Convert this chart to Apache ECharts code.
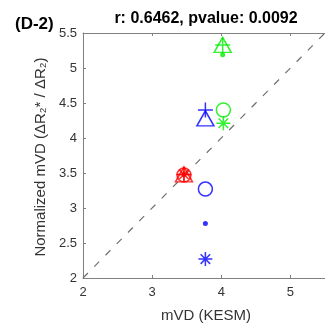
<!DOCTYPE html>
<html>
<head>
<meta charset="utf-8">
<script src="https://cdn.jsdelivr.net/npm/echarts@6/dist/echarts.min.js"></script>
<style>
  html, body { margin: 0; padding: 0; background: #fff; }
  #chart { width: 325px; height: 325px; }
</style>
</head>
<body>
<div id="chart"></div>
<script>
// Axis ranges and tick labels
const xRange = [2, 5.5];
const yRange = [2, 5.5];
const xTickValues = [2, 3, 4, 5];
const yTickValues = [2, 2.5, 3, 3.5, 4, 4.5, 5, 5.5];

// Marker kinds, in the order used by every group below
const markerKinds = ['triangle', 'plus', 'circle', 'asterisk', 'dot'];

// Red group
const redX = [3.46, 3.46, 3.46, 3.46, 3.46];
const redY = [3.48, 3.48, 3.47, 3.48, 3.48];
// Blue group
const blueX = [3.77, 3.77, 3.77, 3.77, 3.77];
const blueY = [4.28, 4.40, 3.27, 2.27, 2.78];
// Green group
const greenX = [4.02, 4.02, 4.03, 4.03, 4.02];
const greenY = [5.33, 5.33, 4.40, 4.21, 5.19];

// Identity reference line
const refLineX = [2, 5.5];
const refLineY = [2, 5.5];

const groups = [
  { color: '#ff0000', xs: redX, ys: redY },
  { color: '#0000ff', xs: blueX, ys: blueY },
  { color: '#00ee00', xs: greenX, ys: greenY }
];

const symbolStyles = {
  triangle: { symbol: 'triangle', size: [17, 15], hollow: true },
  plus: { symbol: 'path://M5,0L5,10M0,5L10,5', size: [15, 15], hollow: true },
  circle: { symbol: 'circle', size: 14, hollow: true },
  asterisk: { symbol: 'path://M5,0L5,10M0,5L10,5M1.6,1.6L8.4,8.4M8.4,1.6L1.6,8.4', size: [14, 14], hollow: true },
  dot: { symbol: 'circle', size: 5, hollow: false }
};

const FONT = '"Liberation Sans", Arial, Helvetica, sans-serif';
const AXIS_COLOR = '#808080';
const TEXT_COLOR = '#333333';

const series = [{
  type: 'line',
  data: refLineX.map((x, i) => [x, refLineY[i]]),
  symbol: 'none',
  silent: true,
  z: 1,
  lineStyle: { color: '#707070', width: 1.2, type: [7, 9] }
}];

groups.forEach(g => {
  markerKinds.forEach((kind, i) => {
    const st = symbolStyles[kind];
    series.push({
      type: 'scatter',
      z: 3,
      symbol: st.symbol,
      symbolSize: st.size,
      data: [[g.xs[i], g.ys[i]]],
      itemStyle: st.hollow
        ? { color: 'rgba(0,0,0,0)', borderColor: g.color, borderWidth: 1.5 }
        : { color: g.color, borderWidth: 0 }
    });
  });
});

const chart = echarts.init(document.getElementById('chart'), null, { renderer: 'canvas' });

chart.setOption({
  animation: false,
  backgroundColor: '#ffffff',
  grid: { left: 83, top: 33, width: 245, height: 245, containLabel: false },
  xAxis: [{
    type: 'value',
    position: 'bottom',
    min: xRange[0], max: xRange[1],
    splitLine: { show: false },
    axisLine: { show: true, onZero: false, lineStyle: { color: AXIS_COLOR, width: 1 } },
    axisTick: { show: true, inside: true, length: 3, customValues: xTickValues, lineStyle: { color: AXIS_COLOR } },
    axisLabel: { customValues: xTickValues, color: TEXT_COLOR, fontSize: 13, fontFamily: FONT, margin: 8 }
  }, {
    type: 'value',
    position: 'top',
    min: xRange[0], max: xRange[1],
    splitLine: { show: false },
    axisLine: { show: true, onZero: false, lineStyle: { color: AXIS_COLOR, width: 1 } },
    axisTick: { show: true, inside: true, length: 3, customValues: xTickValues, lineStyle: { color: AXIS_COLOR } },
    axisLabel: { show: false }
  }],
  yAxis: [{
    type: 'value',
    min: yRange[0], max: yRange[1],
    splitLine: { show: false },
    axisLine: { show: true, onZero: false, lineStyle: { color: AXIS_COLOR, width: 1 } },
    axisTick: { show: true, inside: true, length: 3, customValues: yTickValues, lineStyle: { color: AXIS_COLOR } },
    axisLabel: { customValues: yTickValues, color: TEXT_COLOR, fontSize: 13, fontFamily: FONT, margin: 6 }
  }],
  graphic: [
    {
      type: 'text', x: 206, y: 19,
      style: { text: 'r: 0.6462, pvalue: 0.0092', fill: '#000', font: 'bold 16px ' + FONT, align: 'center', verticalAlign: 'middle' }
    },
    {
      type: 'text', x: 15, y: 24,
      style: { text: '(D-2)', fill: '#000', font: 'bold 17px ' + FONT, align: 'left', verticalAlign: 'middle' }
    },
    {
      type: 'text', x: 206, y: 316,
      style: { text: 'mVD (KESM)', fill: TEXT_COLOR, font: '15px ' + FONT, align: 'center', verticalAlign: 'middle' }
    },
    {
      type: 'text', x: 41, y: 157, rotation: Math.PI / 2,
      style: { text: 'Normalized mVD (ΔR₂* / ΔR₂)', fill: TEXT_COLOR, font: '15px ' + FONT, align: 'center', verticalAlign: 'middle' }
    }
  ],
  series: series
});
</script>
</body>
</html>
